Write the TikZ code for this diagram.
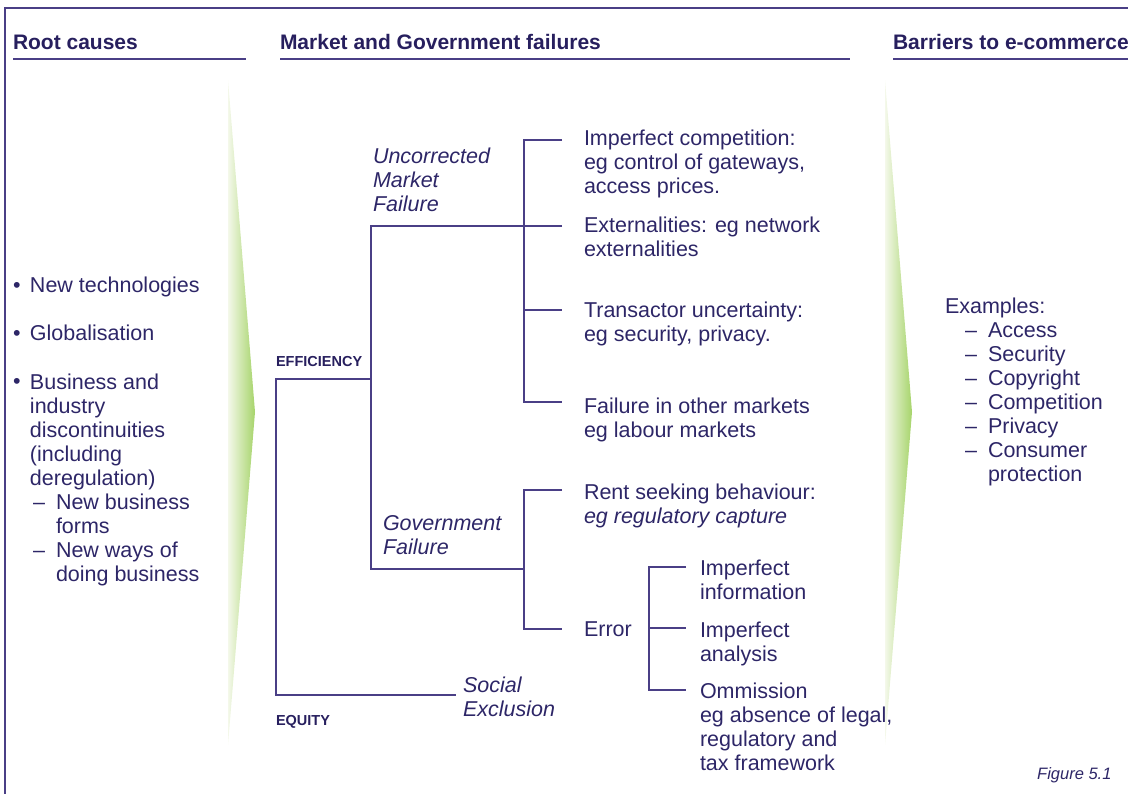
\documentclass[tikz,border=0pt]{standalone}
\usepackage{fontspec}
\setmainfont{Liberation Sans}
\definecolor{txtc}{HTML}{2D2667}
\definecolor{headc}{HTML}{271F5E}
\definecolor{linec}{HTML}{4A3F86}
\definecolor{arrowg}{HTML}{A6D46A}
\definecolor{arrowp}{HTML}{F4F8EA}
\tikzset{
  x=1pt,y=-1pt,
  txt/.style={anchor=base west,inner sep=0pt,outer sep=0pt,text=txtc,align=left,font=\fontsize{21.5}{24}\selectfont},
  ital/.style={txt,font=\fontsize{21.5}{24}\selectfont\itshape},
  head/.style={anchor=base west,inner sep=0pt,outer sep=0pt,text=headc,font=\fontsize{21}{24}\selectfont\bfseries},
  caps/.style={anchor=base west,inner sep=0pt,outer sep=0pt,text=headc,font=\fontsize{14.5}{17}\selectfont\bfseries},
  tree/.style={draw=linec,line width=1.3pt},
  rule/.style={draw=linec,line width=1.4pt}
}
\begin{document}
\begin{tikzpicture}
\useasboundingbox (0,0) rectangle (1128,794);
% frame
\draw[rule] (5,794) -- (5,8) -- (1128,8);
% headings
\node[head] (h1) at (13,50) {Root causes};
\node[head] (h2) at (280,50) {Market and Government failures};
\node[head] (h3) at (893,50) {Barriers to e-commerce};
\draw[rule] (13,59) -- (246,59);
\draw[rule] (280,59) -- (850,59);
\draw[rule] (893,59) -- (1128,59);
% green arrows
\shade[left color=arrowp,right color=arrowg] (228,80) -- (255,412) -- (228,745) -- cycle;
\shade[left color=arrowp,right color=arrowg] (885,80) -- (912,412) -- (885,745) -- cycle;
% root causes (multi-line nodes are anchored at the baseline of their last line)
\node[txt] (b1) at (13,293) {\textbullet};
\node[txt] (t1) at (30,293) {New technologies};
\node[txt] (b2) at (13,341) {\textbullet};
\node[txt] (t2) at (30,341) {Globalisation};
\node[txt] (b3) at (13,389) {\textbullet};
\node[txt] (t3) at (30,485) {Business and\\industry\\discontinuities\\(including\\deregulation)};
\node[txt] (d1) at (33,509) {--};
\node[txt] (s1) at (56,533) {New business\\forms};
\node[txt] (d2) at (33,557) {--};
\node[txt] (s2) at (56,581) {New ways of\\doing business};
% tree coordinates
\coordinate (e0) at (276,379); \coordinate (e1) at (371,379);
\coordinate (q0) at (276,695); \coordinate (q1) at (456,695);
\coordinate (u0) at (371,226); \coordinate (u1) at (562,226);
\coordinate (g0) at (371,569); \coordinate (g1) at (524,569);
\coordinate (m0) at (524,140); \coordinate (m0e) at (562,140);
\coordinate (m2) at (524,310); \coordinate (m2e) at (562,310);
\coordinate (m3) at (524,402); \coordinate (m3e) at (562,402);
\coordinate (r0) at (524,490); \coordinate (r0e) at (562,490);
\coordinate (r1) at (524,629); \coordinate (r1e) at (562,629);
\coordinate (k0) at (649,567); \coordinate (k0e) at (686,567);
\coordinate (k1) at (649,628); \coordinate (k1e) at (686,628);
\coordinate (k2) at (649,690); \coordinate (k2e) at (686,690);
\draw[tree] (e1) -- (e0) -- (q0) -- (q1);
\draw[tree] (u1) -- (u0) -- (g0) -- (g1);
\draw[tree] (m0e) -- (m0) -- (m3) -- (m3e);
\draw[tree] (m2) -- (m2e);
\draw[tree] (r0e) -- (r0) -- (r1) -- (r1e);
\draw[tree] (k0e) -- (k0) -- (k2) -- (k2e);
\draw[tree] (k1) -- (k1e);
% tree labels
\node[caps] (eff) at (276,367) {EFFICIENCY};
\node[caps] (equ) at (276,725) {EQUITY};
\node[ital] (um) at (373,212) {Uncorrected\\Market\\Failure};
\node[ital] (gf) at (383,554) {Government\\Failure};
\node[ital] (se) at (463,716) {Social\\Exclusion};
\node[txt] (ic) at (584,194) {Imperfect competition:\\eg control of gateways,\\access prices.};
\node[txt] (ex) at (584,257) {Externalities: eg network\\externalities};
\node[txt] (tu) at (584,342) {Transactor uncertainty:\\eg security, privacy.};
\node[txt] (fo) at (584,437) {Failure in other markets\\eg labour markets};
\node[txt] (rs) at (584,523) {Rent seeking behaviour:\\\textit{eg regulatory capture}};
\node[txt] (er) at (584,636) {Error};
\node[txt] (ii) at (700,599) {Imperfect\\information};
\node[txt] (ia) at (700,661) {Imperfect\\analysis};
\node[txt] (om) at (700,770) {Ommission\\eg absence of legal,\\regulatory and\\tax framework};
% barriers
\node[txt] (exm) at (945,314) {Examples:};
\node[txt] (dsh) at (965,457) {--\\--\\--\\--\\--\\--};
\node[txt] (exl) at (988,481) {Access\\Security\\Copyright\\Competition\\Privacy\\Consumer\\protection};
\node[anchor=base west,inner sep=0pt,text=txtc,font=\fontsize{16.5}{20}\selectfont\itshape] (fig) at (1037,779) {Figure 5.1};
\end{tikzpicture}
\end{document}
